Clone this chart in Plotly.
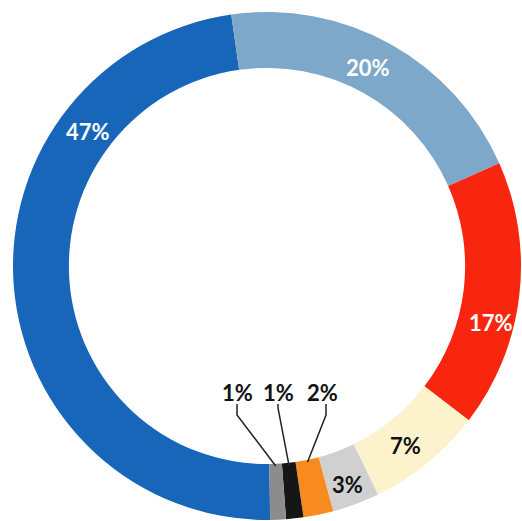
import math
import plotly.graph_objects as go

# ---- data (clockwise from the bottom) ----
categories = ["A", "B", "C", "D", "E", "F", "G", "H"]
values = [47.9, 20.6, 17.0, 7.4, 3.0, 1.9, 1.1, 1.0]
label_text = ["47%", "20%", "17%", "7%", "3%", "2%", "1%", "1%"]
colors = ["#1766BA", "#7DA8C9", "#F8260F", "#FCF3CD", "#D0D0D0", "#F88B1F", "#161616", "#8C8C8C"]
text_colors = ["white", "white", "white", "#111111", "#111111", "#111111", "#111111", "#111111"]

W, H = 522, 521
CX, CY, R_OUT = 267, 266, 254
HOLE = 0.78
START_ANGLE = 179.3  # compass degrees where first slice begins

fig = go.Figure(go.Pie(
    labels=categories,
    values=values,
    sort=False,
    direction="clockwise",
    rotation=START_ANGLE,
    hole=HOLE,
    marker=dict(colors=colors, line=dict(width=0)),
    textinfo="none",
    hoverinfo="skip",
    showlegend=False,
    domain=dict(x=[(CX - R_OUT) / W, (CX + R_OUT) / W],
                y=[1 - (CY + R_OUT) / H, 1 - (CY - R_OUT) / H]),
))

def px(x, y):
    return x / W, 1 - y / H

# label positions (pixels) for each slice
label_pos = [(88, 131), (368, 67), (491, 322), (405, 445), (347, 484),
             (322, 392), (278, 392), (237, 392)]

annotations = []
for t, c, (x, y) in zip(label_text, text_colors, label_pos):
    xx, yy = px(x, y)
    annotations.append(dict(x=xx, y=yy, xref="paper", yref="paper", text=t,
                            showarrow=False, xanchor="center", yanchor="middle",
                            font=dict(family="Lato", size=22, color=c, weight="bold")))

# leader lines for the three small slices, ending at each slice's mid angle on inner edge
total = sum(values)
cum = 0
mids = []
for v in values:
    mids.append(START_ANGLE + (cum + v / 2) / total * 360)
    cum += v
r_in = R_OUT * HOLE + 2
shapes = []
for i in (5, 6, 7):
    a = math.radians(mids[i])
    ex, ey = CX + r_in * math.sin(a), CY - r_in * math.cos(a)
    lx, ly = label_pos[i]
    p0 = px(lx + (4 if i == 5 else 0), ly + 12)
    p1 = px(lx + (4 if i == 5 else 0), ly + 23) if i != 6 else px(lx, ly + 16)
    p2 = px(ex, ey)
    shapes.append(dict(type="path", xref="paper", yref="paper",
                       path=f"M {p0[0]} {p0[1]} L {p1[0]} {p1[1]} L {p2[0]} {p2[1]}",
                       line=dict(color="#222222", width=1.5)))

fig.update_layout(
    width=W, height=H,
    margin=dict(l=0, r=0, t=0, b=0),
    paper_bgcolor="white",
    plot_bgcolor="white",
    annotations=annotations,
    shapes=shapes,
)

fig.write_html("out.html",
               config={"displayModeBar": False, "staticPlot": True},
               post_script="document.body.style.margin='0';document.body.style.overflow='hidden';")
